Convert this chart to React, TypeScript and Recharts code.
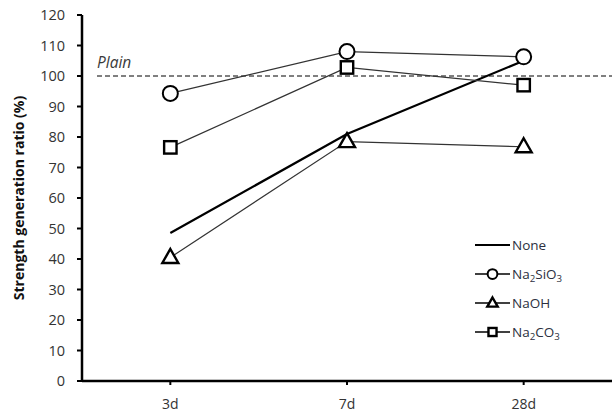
import React from 'react';
import { LineChart, Line, XAxis, YAxis, ReferenceLine } from 'recharts';

const categories = ['3d', '7d', '28d'];
const noneValues = [48.5, 81, 105];
const silicateValues = [94.3, 108, 106.3];
const hydroxideValues = [40.5, 78.5, 76.8];
const carbonateValues = [76.6, 102.8, 97];
const yTicks = [0, 10, 20, 30, 40, 50, 60, 70, 80, 90, 100, 110, 120];
const plainValue = 100;
const plainLabel = 'Plain';
const yLabel = 'Strength generation ratio (%)';

const seriesNames = ['None', 'Na2SiO3', 'NaOH', 'Na2CO3'];
const seriesMarkers = ['none', 'circle', 'triangle', 'square'];

const data = categories.map((c, i) => ({
  cat: c,
  s0: noneValues[i],
  s1: silicateValues[i],
  s2: hydroxideValues[i],
  s3: carbonateValues[i],
}));

const FONT = '"Open Sans", "Noto Sans", sans-serif';

const Marker = ({ kind, cx, cy, scale = 1 }: { kind: string; cx: number; cy: number; scale?: number }) => {
  if (kind === 'circle') {
    return <circle cx={cx} cy={cy} r={7.5 * scale} fill="#fff" stroke="#000" strokeWidth={2} />;
  }
  if (kind === 'square') {
    const h = 6.2 * scale;
    return <rect x={cx - h} y={cy - h} width={2 * h} height={2 * h} fill="#fff" stroke="#000" strokeWidth={2.4} />;
  }
  if (kind === 'triangle') {
    const w = 8 * scale;
    const top = 8.5 * scale;
    const bot = 5.5 * scale;
    return (
      <path
        d={`M${cx},${cy - top} L${cx + w},${cy + bot} L${cx - w},${cy + bot} Z`}
        fill="#fff"
        stroke="#000"
        strokeWidth={2.4}
        strokeLinejoin="miter"
      />
    );
  }
  return null;
};

const makeDot = (kind: string) => (props: any) => (
  <Marker key={`${kind}-${props.index}`} kind={kind} cx={props.cx} cy={props.cy} />
);

const formatName = (name: string) => {
  const parts = name.split(/(\d)/);
  return parts.map((p, i) =>
    /\d/.test(p) ? (
      <sub key={i} style={{ fontSize: '0.72em', verticalAlign: '-0.3em', lineHeight: 0 }}>{p}</sub>
    ) : (
      <span key={i}>{p}</span>
    )
  );
};

const LegendBox = () => (
  <div
    style={{
      position: 'absolute',
      left: 474,
      top: 230,
      width: 135,
      fontFamily: FONT,
      fontSize: 13.5,
      color: '#2b3040',
    }}
  >
    {seriesNames.map((n, i) => (
      <div key={n} style={{ display: 'flex', alignItems: 'center', height: 29 }}>
        <svg width={37} height={16} style={{ display: 'block' }}>
          <line x1={1} y1={8} x2={36} y2={8} stroke="#000" strokeWidth={i === 0 ? 2.2 : 1.3} />
          <Marker kind={seriesMarkers[i]} cx={18.5} cy={8} scale={0.65} />
        </svg>
        <span style={{ marginLeft: 1 }}>{formatName(n)}</span>
      </div>
    ))}
  </div>
);

const PlainLine = (props: any) => {
  const { x1, y1, x2, y2 } = props;
  return (
    <g>
      <line x1={x1 + 15} y1={y1} x2={x2} y2={y2} stroke="#000" strokeWidth={1} strokeDasharray="5 3" />
      <text x={x1 + 15} y={y1 - 8} fontFamily={FONT} fontStyle="italic" fontSize={15.5} fill="#3a3a3a">
        {plainLabel}
      </text>
    </g>
  );
};

const YLabel = (props: any) => {
  const vb = props.viewBox || {};
  const cy = (vb.y || 15) + (vb.height || 366) / 2;
  return (
    <text
      x={18}
      y={cy}
      transform={`rotate(-90, 18, ${cy})`}
      textAnchor="middle"
      dominantBaseline="central"
      fontFamily={FONT}
      fontWeight="bold"
      fontSize={14}
      fill="#111"
    >
      {yLabel}
    </text>
  );
};

export default function App() {
  return (
    <div style={{ position: 'absolute', left: 0, top: 0, width: 612, height: 414, background: '#fff' }}>
      <LineChart width={612} height={414} data={data} margin={{ top: 15, right: 0, bottom: 0, left: 0 }}>
        <XAxis
          dataKey="cat"
          scale="band"
          height={33}
          axisLine={{ stroke: '#000', strokeWidth: 2.5 }}
          tickLine={{ stroke: '#000', strokeWidth: 2 }}
          tickSize={4}
          tickMargin={14}
          tick={{ fontFamily: FONT, fontSize: 14, fill: '#333' }}
        />
        <YAxis
          width={82}
          domain={[0, 120]}
          ticks={yTicks}
          interval={0}
          axisLine={{ stroke: '#000', strokeWidth: 2.5 }}
          tickLine={{ stroke: '#000', strokeWidth: 2 }}
          tickSize={5}
          tickMargin={12}
          tick={{ fontFamily: FONT, fontSize: 14.5, fill: '#333' }}
          label={<YLabel />}
        />
        <ReferenceLine y={plainValue} shape={<PlainLine />} />
        <Line
          dataKey="s0"
          name={seriesNames[0]}
          stroke="#000"
          strokeWidth={2.2}
          dot={false}
          activeDot={false}
          isAnimationActive={false}
        />
        <Line
          dataKey="s1"
          name={seriesNames[1]}
          stroke="#333"
          strokeWidth={1.2}
          dot={makeDot('circle')}
          activeDot={false}
          isAnimationActive={false}
        />
        <Line
          dataKey="s2"
          name={seriesNames[2]}
          stroke="#333"
          strokeWidth={1.2}
          dot={makeDot('triangle')}
          activeDot={false}
          isAnimationActive={false}
        />
        <Line
          dataKey="s3"
          name={seriesNames[3]}
          stroke="#333"
          strokeWidth={1.2}
          dot={makeDot('square')}
          activeDot={false}
          isAnimationActive={false}
        />
      </LineChart>
      <LegendBox />
    </div>
  );
}
